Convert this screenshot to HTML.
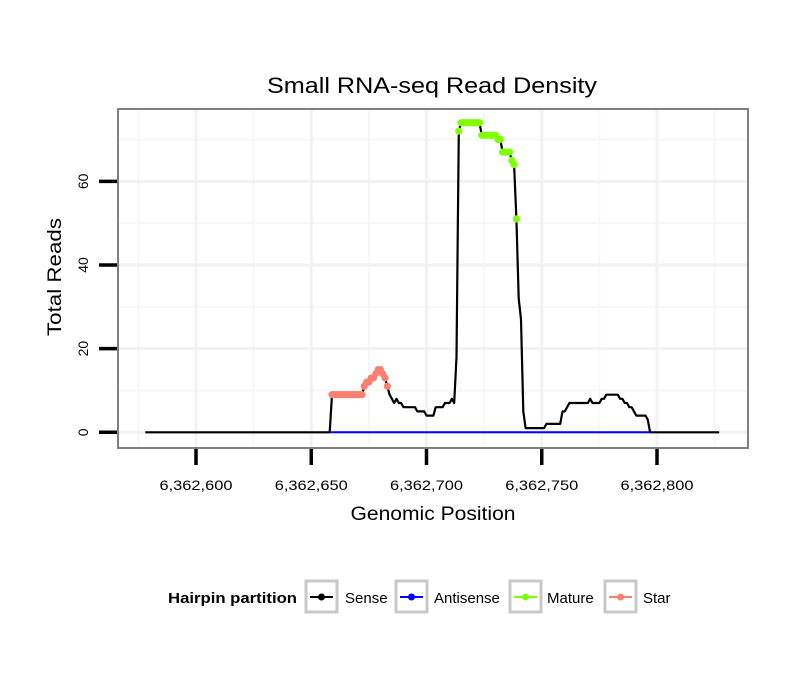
<!DOCTYPE html>
<html><head><meta charset="utf-8"><style>
html,body{margin:0;padding:0;background:#fff;}
svg{display:block;font-family:"Liberation Sans",sans-serif;}
</style></head><body>
<svg id="chart" width="810" height="690" xmlns="http://www.w3.org/2000/svg">
<rect width="810" height="690" fill="#fff"/>
<g id="grid"></g>
<g id="series"></g>
<rect x="118" y="109" width="630" height="339" fill="none" stroke="#7f7f7f" stroke-width="2"/>
<g id="axes"></g>
<text x="432" y="93" text-anchor="middle" font-size="22" textLength="330" lengthAdjust="spacingAndGlyphs" fill="#000">Small RNA-seq Read Density</text>
<text x="433" y="520" text-anchor="middle" font-size="19" textLength="165" lengthAdjust="spacingAndGlyphs" fill="#000">Genomic Position</text>
<text transform="translate(61,277) rotate(-90)" text-anchor="middle" font-size="19" textLength="118" lengthAdjust="spacingAndGlyphs" fill="#000">Total Reads</text>
<g>
<text x="168" y="603" font-size="15" font-weight="bold" textLength="129" lengthAdjust="spacingAndGlyphs">Hairpin partition</text>
<g><rect x="306" y="581" width="31" height="31" fill="#fff" stroke="#c8c8c8" stroke-width="3"/><line x1="310" x2="333" y1="597" y2="597" stroke="#000" stroke-width="2"/><circle cx="321.5" cy="597" r="3.5" fill="#000"/><text x="345" y="603" font-size="15">Sense</text></g>
<g><rect x="396" y="581" width="31" height="31" fill="#fff" stroke="#c8c8c8" stroke-width="3"/><line x1="400" x2="423" y1="597" y2="597" stroke="#0000ff" stroke-width="2"/><circle cx="411.5" cy="597" r="3.5" fill="#0000ff"/><text x="434" y="603" font-size="15">Antisense</text></g>
<g><rect x="510" y="581" width="31" height="31" fill="#fff" stroke="#c8c8c8" stroke-width="3"/><line x1="514" x2="537" y1="597" y2="597" stroke="#7fff00" stroke-width="2"/><circle cx="525.5" cy="597" r="3.5" fill="#7fff00"/><text x="547" y="603" font-size="15">Mature</text></g>
<g><rect x="605" y="581" width="31" height="31" fill="#fff" stroke="#c8c8c8" stroke-width="3"/><line x1="609" x2="632" y1="597" y2="597" stroke="#fa8072" stroke-width="2"/><circle cx="620.5" cy="597" r="3.5" fill="#fa8072"/><text x="643" y="603" font-size="15">Star</text></g>
</g>
</svg>
<script>
const xTicks=[6362600,6362650,6362700,6362750,6362800];
const xTickLabels=["6,362,600","6,362,650","6,362,700","6,362,750","6,362,800"];
const xMinor=[6362575,6362625,6362675,6362725,6362775,6362825];
const yTicks=[0,20,40,60];
const yTickLabels=["0","20","40","60"];
const yMinor=[10,30,50,70];
const sensePos=[
6362578,6362658,
6362659,6362660,6362661,6362662,6362663,6362664,6362665,6362666,6362667,6362668,6362669,6362670,6362671,6362672,
6362673,6362674,6362675,6362676,6362677,6362678,6362679,6362680,6362681,6362682,6362683,
6362684,6362685,6362686,6362687,6362688,6362689,6362690,6362691,6362692,6362693,6362694,6362695,6362696,6362697,6362698,6362699,6362700,6362701,6362702,6362703,6362704,6362705,6362706,6362707,6362708,6362709,6362710,6362711,6362712,
6362713,6362714,6362715,6362716,6362717,6362718,6362719,6362720,6362721,6362722,6362723,
6362724,6362725,6362726,6362727,6362728,6362729,6362730,6362731,6362732,6362733,6362734,6362735,6362736,6362737,6362738,6362739,6362740,6362741,6362742,6362743,
6362751,6362752,6362758,6362759,6362760,6362761,6362762,6362763,6362770,6362771,6362772,6362775,6362776,6362777,6362778,6362783,6362784,6362785,6362786,6362787,6362788,6362789,6362790,6362791,6362795,6362796,6362797,6362827];
const senseReads=[
0,0,
9,9,9,9,9,9,9,9,9,9,9,9,9,9,
11,12,12,13,13,14,15,15,14,13,11,
9,8,7,8,7,7,6,6,6,6,6,6,5,5,5,5,4,4,4,4,6,6,6,6,7,7,7,8,7,
18,72,74,74,74,74,74,74,74,74,74,
71,71,71,71,71,71,71,70,70,67,67,67,67,65,64,51,32,27,5,1,
1,2,2,5,5,6,7,7,7,8,7,7,8,8,9,9,8,8,7,7,6,6,5,4,4,3,0,0];
const antisensePos=[6362658,6362797];
const antisenseReads=[0,0];
const starPos=[6362659,6362660,6362661,6362662,6362663,6362664,6362665,6362666,6362667,6362668,6362669,6362670,6362671,6362672,6362673,6362674,6362675,6362676,6362677,6362678,6362679,6362680,6362681,6362682,6362683];
const starReads=[9,9,9,9,9,9,9,9,9,9,9,9,9,9,11,12,12,13,13,14,15,15,14,13,11];
const maturePos=[6362714,6362715,6362716,6362717,6362718,6362719,6362720,6362721,6362722,6362723,6362724,6362725,6362726,6362727,6362728,6362729,6362730,6362731,6362732,6362733,6362734,6362735,6362736,6362737,6362738,6362739];
const matureReads=[72,74,74,74,74,74,74,74,74,74,71,71,71,71,71,71,71,70,70,67,67,67,67,65,64,51];

const X=v=>196+(v-6362600)*2.305;
const Y=v=>432.3-v*4.183;
const NS="http://www.w3.org/2000/svg";
function mk(tag,attrs,parent){const e=document.createElementNS(NS,tag);for(const k in attrs)e.setAttribute(k,attrs[k]);parent.appendChild(e);return e;}
const grid=document.getElementById('grid'),ser=document.getElementById('series'),axes=document.getElementById('axes');
xMinor.forEach(v=>{const l=mk('line',{x1:X(v),x2:X(v),y1:109,y2:448,stroke:'#f7f7f7','stroke-width':2},grid);

});
yMinor.forEach(v=>{const l=mk('line',{x1:118,x2:748,y1:Y(v),y2:Y(v),stroke:'#f7f7f7','stroke-width':2},grid);

});
xTicks.forEach(v=>{const l=mk('line',{x1:X(v),x2:X(v),y1:109,y2:448,stroke:'#f2f2f2','stroke-width':3},grid);

});
yTicks.forEach(v=>{const l=mk('line',{x1:118,x2:748,y1:Y(v),y2:Y(v),stroke:'#f2f2f2','stroke-width':3},grid);

});
function path(pos,vals){return pos.map((p,i)=>(i?'L':'M')+X(p).toFixed(1)+','+Y(vals[i]).toFixed(1)).join(' ');}
const sl=mk('path',{d:path(sensePos,senseReads),fill:'none',stroke:'#000','stroke-width':2.2,'stroke-linejoin':'round'},ser);


const al=mk('path',{d:path(antisensePos,antisenseReads),fill:'none',stroke:'#0000ff','stroke-width':2},ser);


starPos.forEach((p,i)=>{const c=mk('circle',{cx:X(p),cy:Y(starReads[i]),r:3.6,fill:'#fa8072'},ser);

});
maturePos.forEach((p,i)=>{const c=mk('circle',{cx:X(p),cy:Y(matureReads[i]),r:3.6,fill:'#7fff00'},ser);

});
xTicks.forEach((v,i)=>{const t=mk('line',{x1:X(v),x2:X(v),y1:449,y2:465,stroke:'#000','stroke-width':3.5},axes);


const tx=mk('text',{x:X(v),y:490,'text-anchor':'middle','font-size':14,textLength:73,lengthAdjust:'spacingAndGlyphs',fill:'#000'},axes);tx.textContent=xTickLabels[i];

});
yTicks.forEach((v,i)=>{const t=mk('line',{x1:99,x2:117,y1:Y(v),y2:Y(v),stroke:'#000','stroke-width':3.5},axes);


const tx=mk('text',{transform:`translate(88,${Y(v)}) rotate(-90)`,'text-anchor':'middle','font-size':14,fill:'#000'},axes);tx.textContent=yTickLabels[i];

});
</script>
</body></html>
